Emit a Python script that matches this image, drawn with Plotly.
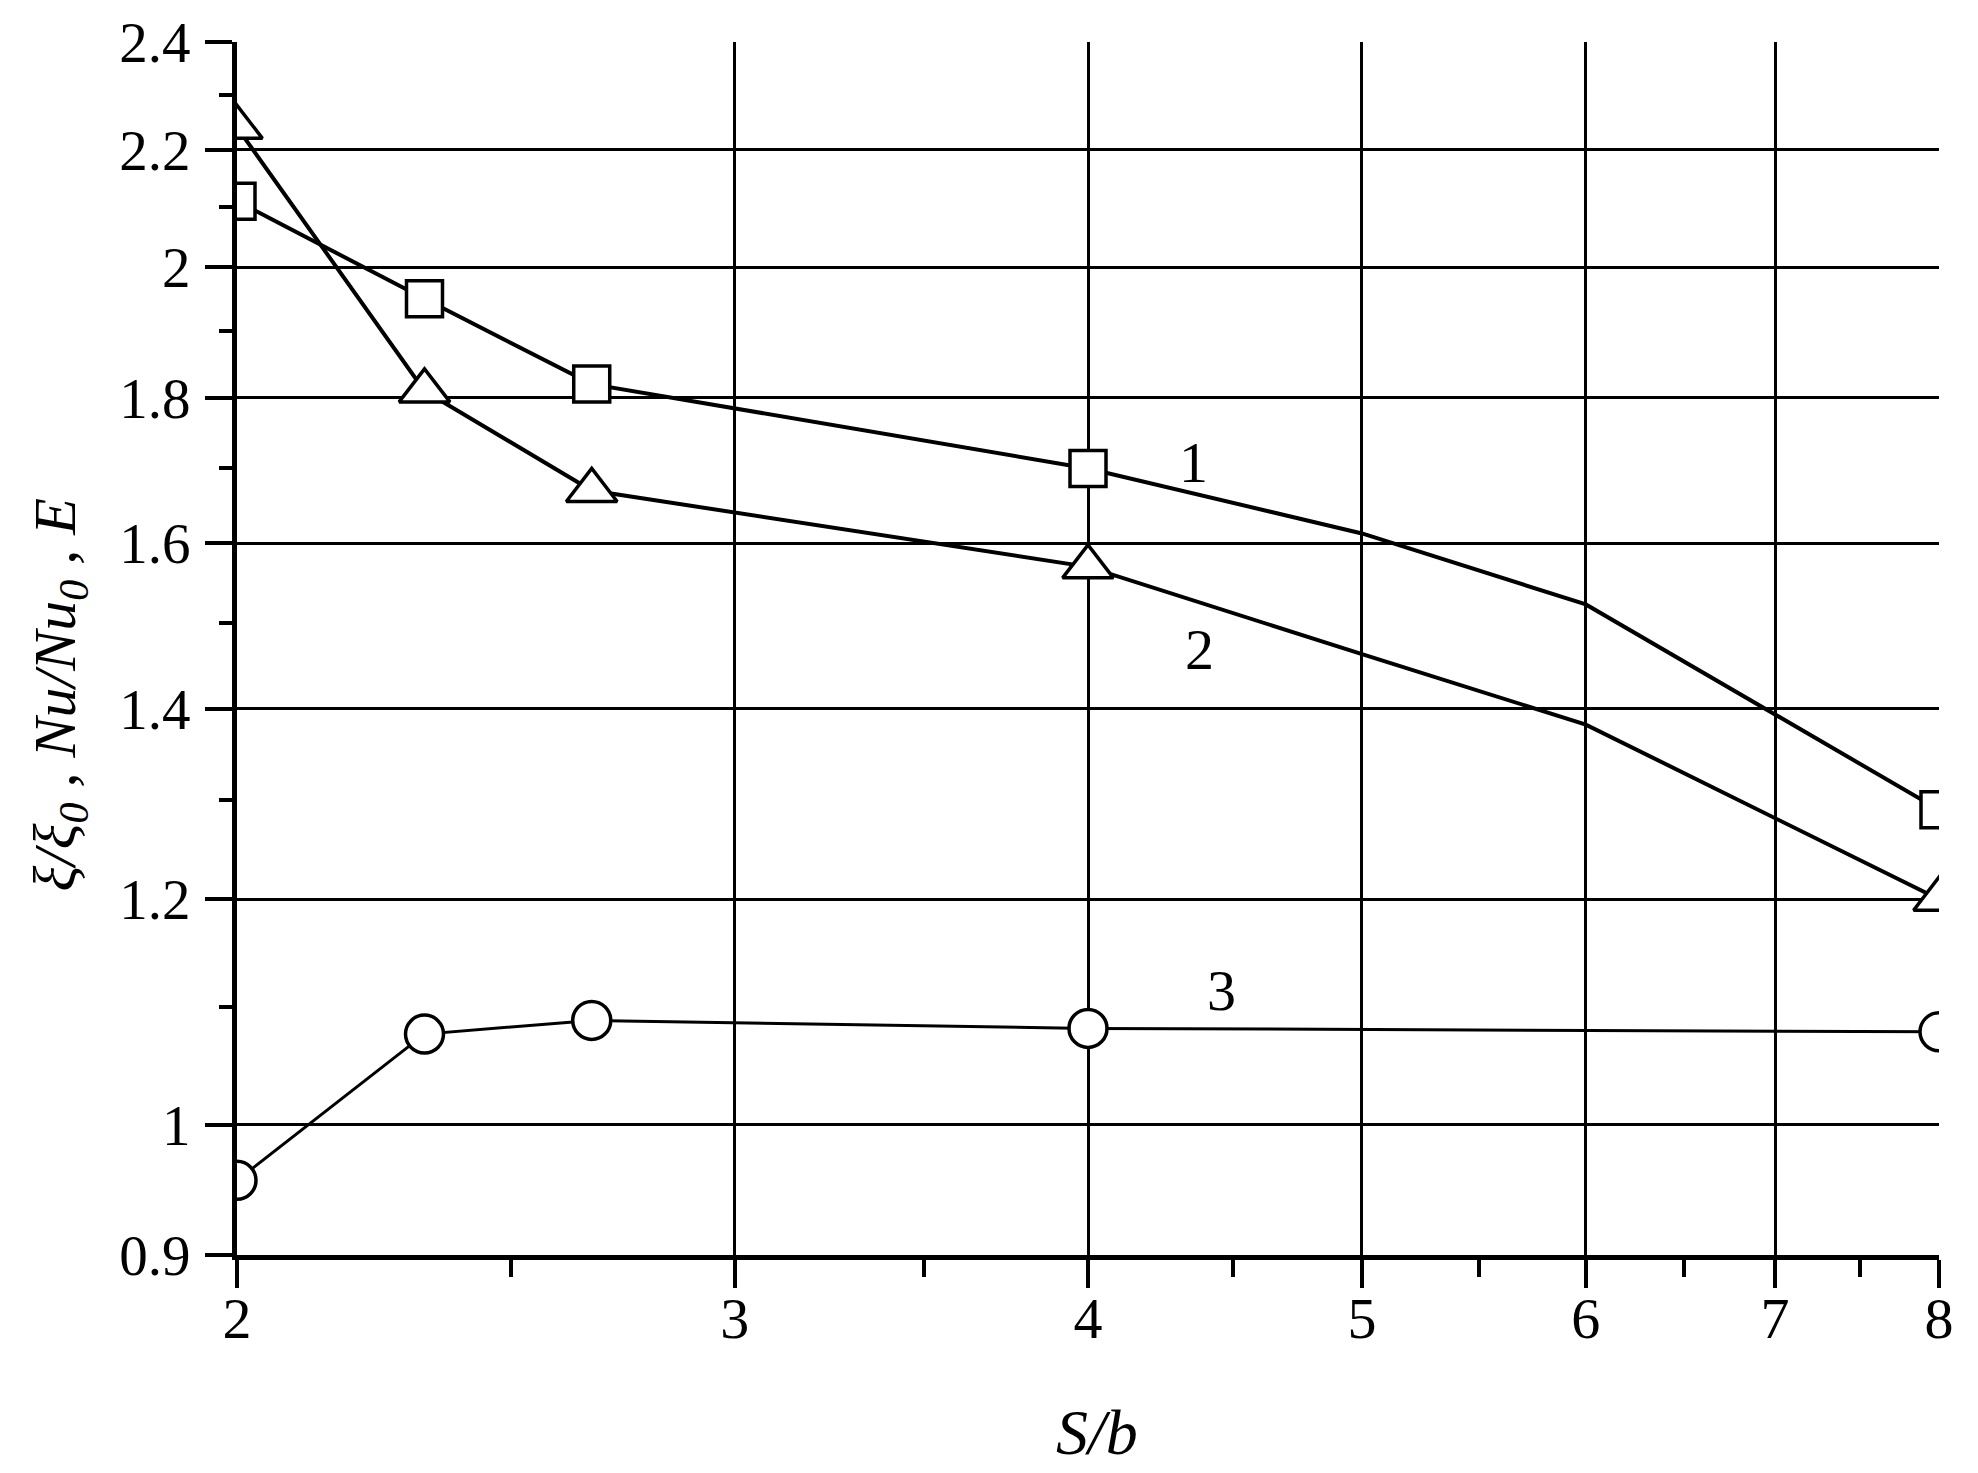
import math
import plotly.graph_objects as go

# ---- data ----
x_main = [2, 2.33, 2.67, 4, 5, 6, 8]
y_series1 = [2.11, 1.95, 1.82, 1.70, 1.613, 1.523, 1.29]
y_series2 = [2.24, 1.81, 1.67, 1.57, 1.463, 1.382, 1.20]
marker_idx = [0, 1, 2, 3, 6]  # points that carry a symbol

x_series3 = [2, 2.33, 2.67, 4, 8]
y_series3 = [0.956, 1.076, 1.088, 1.081, 1.078]

x_ticks = [2, 3, 4, 5, 6, 7, 8]
x_minor = [2.5, 3.5, 4.5, 5.5, 6.5, 7.5]
y_ticks = [0.9, 1, 1.2, 1.4, 1.6, 1.8, 2, 2.2, 2.4]
y_tick_text = ["0.9", "1", "1.2", "1.4", "1.6", "1.8", "2", "2.2", "2.4"]
y_minor = [1.1, 1.3, 1.5, 1.7, 1.9, 2.1, 2.3]

curve_labels = ["1", "2", "3"]
label_pos = [(4.36, 1.708), (4.38, 1.469), (4.46, 1.115)]

x_title = "<i>S/b</i>"
y_title = "<i>ξ/ξ<sub>0</sub> , Nu/Nu<sub>0</sub> , E</i>"

FONT = "Liberation Serif, Times New Roman, serif"
BLACK = "black"

fig = go.Figure()

# lines
fig.add_trace(go.Scatter(x=x_main, y=y_series1, mode="lines",
                         line=dict(color=BLACK, width=4), showlegend=False))
fig.add_trace(go.Scatter(x=x_main, y=y_series2, mode="lines",
                         line=dict(color=BLACK, width=4), showlegend=False))
fig.add_trace(go.Scatter(x=x_series3, y=y_series3, mode="lines",
                         line=dict(color=BLACK, width=3), showlegend=False))

# markers
fig.add_trace(go.Scatter(x=[x_main[i] for i in marker_idx],
                         y=[y_series1[i] for i in marker_idx],
                         mode="markers", showlegend=False,
                         marker=dict(symbol="square", size=36, color="white",
                                     line=dict(color=BLACK, width=3.5))))
fig.add_trace(go.Scatter(x=[x_main[i] for i in marker_idx],
                         y=[y_series2[i] for i in marker_idx],
                         mode="markers", showlegend=False,
                         marker=dict(symbol="triangle-up", size=44, color="white",
                                     line=dict(color=BLACK, width=3.5))))
fig.add_trace(go.Scatter(x=x_series3, y=y_series3,
                         mode="markers", showlegend=False,
                         marker=dict(symbol="circle", size=38, color="white",
                                     line=dict(color=BLACK, width=3.5))))

for txt, (lx, ly) in zip(curve_labels, label_pos):
    fig.add_annotation(x=math.log10(lx), y=math.log10(ly), text=txt,
                       showarrow=False, font=dict(family=FONT, size=58, color=BLACK))

# axis titles as annotations (paper coords)
fig.add_annotation(x=0.505, y=-0.146, xref="paper", yref="paper", text=x_title,
                   showarrow=False, xanchor="center", yanchor="middle",
                   font=dict(family=FONT, size=64, color=BLACK))
fig.add_annotation(x=-0.104, y=0.462, xref="paper", yref="paper", text=y_title,
                   showarrow=False, xanchor="center", yanchor="middle", textangle=-90,
                   font=dict(family=FONT, size=60, color=BLACK))

fig.update_xaxes(
    type="log", range=[math.log10(2), math.log10(8)],
    tickvals=x_ticks, ticktext=[str(v) for v in x_ticks],
    ticks="outside", ticklen=28, tickwidth=4, tickcolor=BLACK,
    showline=True, linewidth=5, linecolor=BLACK,
    showgrid=True, gridcolor=BLACK, gridwidth=3,
    zeroline=False, mirror=False,
    tickfont=dict(family=FONT, size=58, color=BLACK),
    ticklabelstandoff=-20,
    minor=dict(tickvals=x_minor, ticks="outside", ticklen=17, tickwidth=4,
               tickcolor=BLACK, showgrid=False),
)
fig.update_yaxes(
    type="log", range=[math.log10(0.9), math.log10(2.4)],
    tickvals=y_ticks, ticktext=y_tick_text,
    ticks="outside", ticklen=27, tickwidth=4, tickcolor=BLACK,
    showline=True, linewidth=5, linecolor=BLACK,
    showgrid=True, gridcolor=BLACK, gridwidth=3,
    zeroline=False, mirror=False,
    tickfont=dict(family=FONT, size=57, color=BLACK),
    ticklabelstandoff=3,
    minor=dict(tickvals=y_minor, ticks="outside", ticklen=13, tickwidth=4,
               tickcolor=BLACK, showgrid=False),
)

fig.update_layout(
    width=1978, height=1473,
    margin=dict(l=229, r=47, t=34, b=226, autoexpand=False),
    paper_bgcolor="white", plot_bgcolor="white",
    showlegend=False,
)

fig.write_html("out.html")
